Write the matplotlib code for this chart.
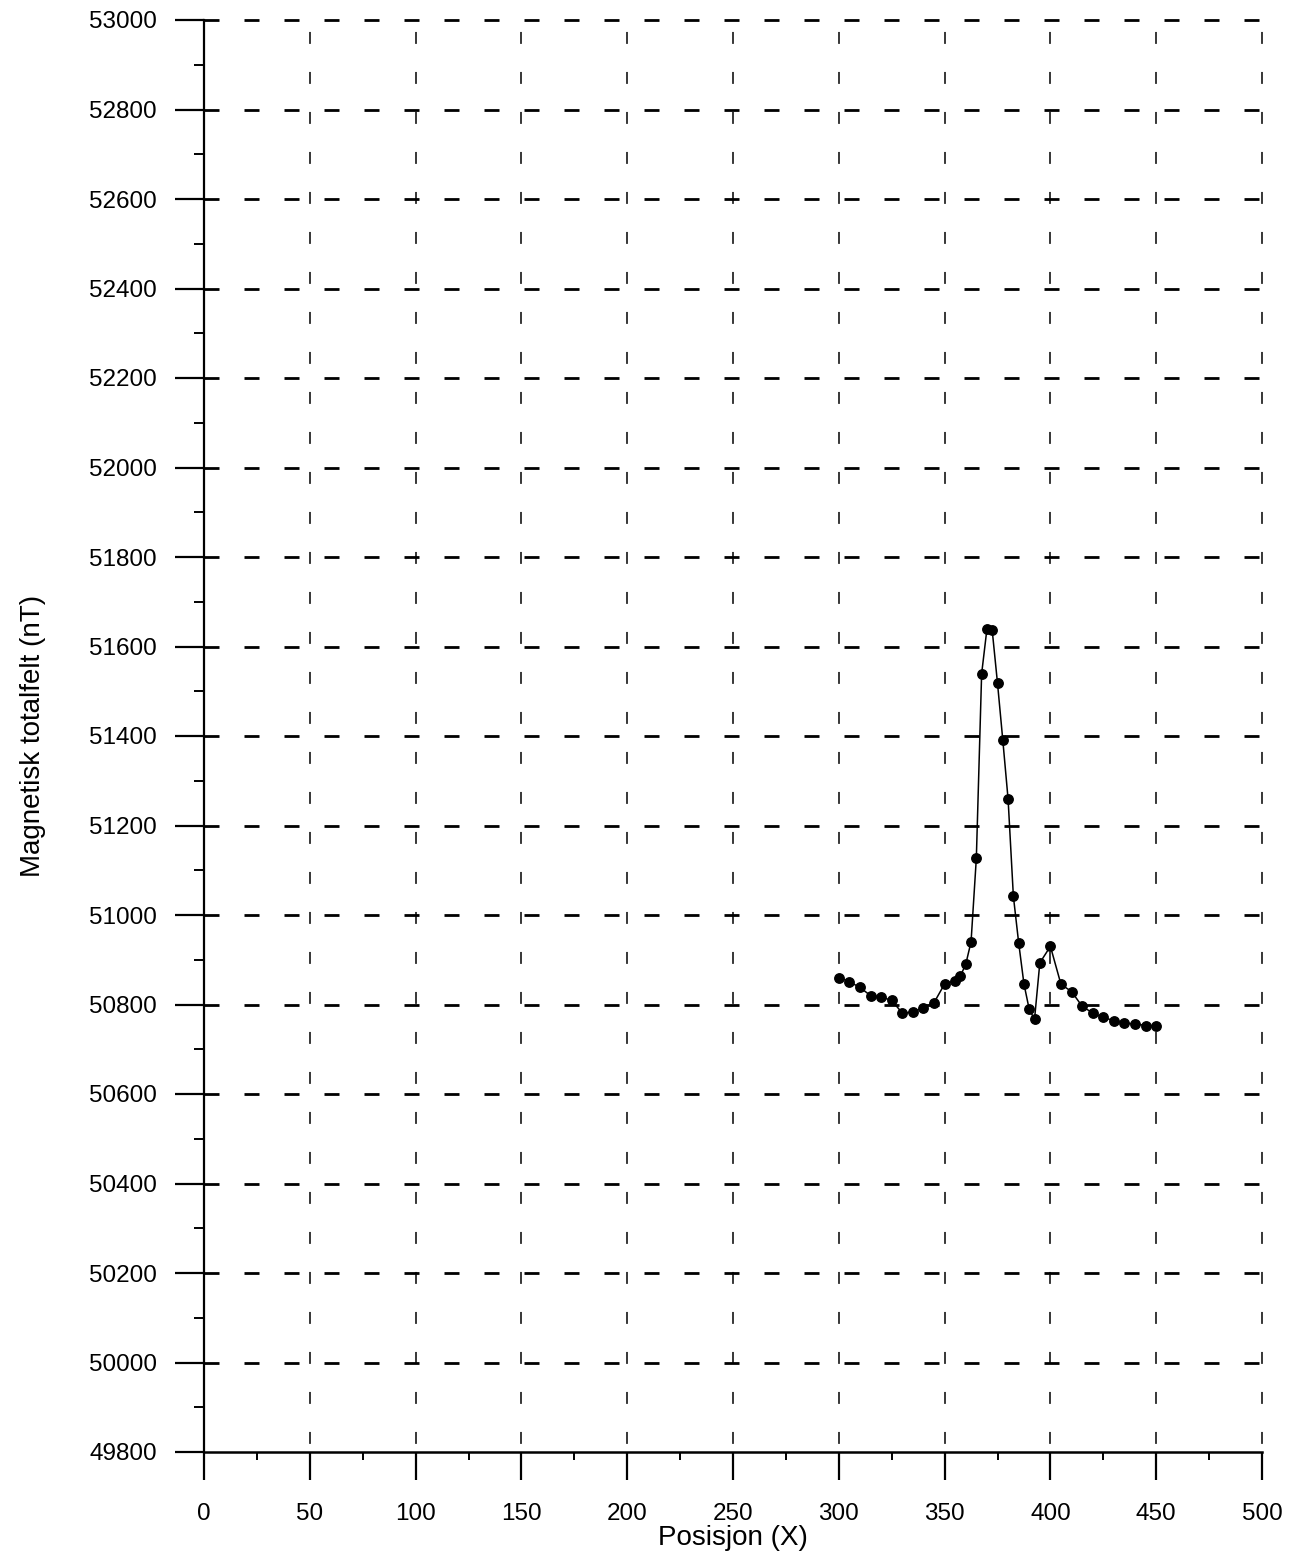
import matplotlib
matplotlib.use("Agg")
import matplotlib.pyplot as plt
import numpy as np

# ---------------------------------------------
# DATA
# ---------------------------------------------
pos = [300, 305, 310, 315, 320, 325, 330, 335, 340, 345,
       350, 355, 357.5, 360, 362.5, 365, 367.5, 370, 372.5, 375,
       377.5, 380, 382.5, 385, 387.5, 390, 392.5, 395, 400, 405,
       410, 415, 420, 425, 430, 435, 440, 445, 450]
felt = [50860, 50851, 50838, 50820, 50817, 50809, 50781, 50783, 50793, 50804,
        50846, 50853, 50864, 50890, 50940, 51127, 51539, 51639, 51636, 51518,
        51391, 51259, 51042, 50938, 50846, 50789, 50767, 50893, 50930, 50845,
        50829, 50796, 50781, 50771, 50764, 50758, 50757, 50753, 50753]

x_ticks = np.arange(0, 501, 50)
y_ticks = np.arange(49800, 53001, 200)

plt.rcParams['font.family'] = ['Liberation Sans', 'DejaVu Sans']
plt.rcParams['lines.scale_dashes'] = False

fig = plt.figure(figsize=(12.97, 15.62), dpi=100)
ax = fig.add_axes([204 / 1297, 1 - 1452 / 1562, 1058 / 1297, 1432 / 1562])

ax.set_xlim(0, 500)
ax.set_ylim(49800, 53000)

# dashed grid, drawn by hand to get the two different dash patterns
for y in y_ticks[1:]:
    ax.axhline(y, color="black", lw=2.0, linestyle=(0, (10.8, 18.0)),
               clip_on=False, zorder=1)
for x in x_ticks[1:]:
    ax.plot([x, x], [53000, 49800], color="black", lw=1.1,
            linestyle=(20.2, (8.6, 20.2)), clip_on=False, zorder=1)

ax.plot(pos, felt, color="black", lw=1.1, marker="o", ms=6.8, zorder=3)

for s in ["top", "right"]:
    ax.spines[s].set_visible(False)
ax.spines["left"].set_linewidth(1.6)
ax.spines["bottom"].set_linewidth(1.8)

ax.set_xticks(x_ticks)
ax.set_yticks(y_ticks)
ax.set_xticks(np.arange(25, 500, 50), minor=True)
ax.set_yticks(np.arange(49900, 53000, 200), minor=True)
ax.tick_params(axis="x", which="major", direction="out", length=20, width=1.6,
               labelsize=17.5, pad=17)
ax.tick_params(axis="y", which="major", direction="out", length=21, width=1.6,
               labelsize=17.5, pad=13)
ax.tick_params(axis="x", which="minor", direction="out", length=6, width=1.4)
ax.tick_params(axis="y", which="minor", direction="out", length=7, width=1.4)

ax.set_xlabel("Posisjon (X)", fontsize=20, labelpad=0)
ax.set_ylabel("Magnetisk totalfelt (nT)", fontsize=20, labelpad=31)

fig.savefig("out.png", dpi=100)
